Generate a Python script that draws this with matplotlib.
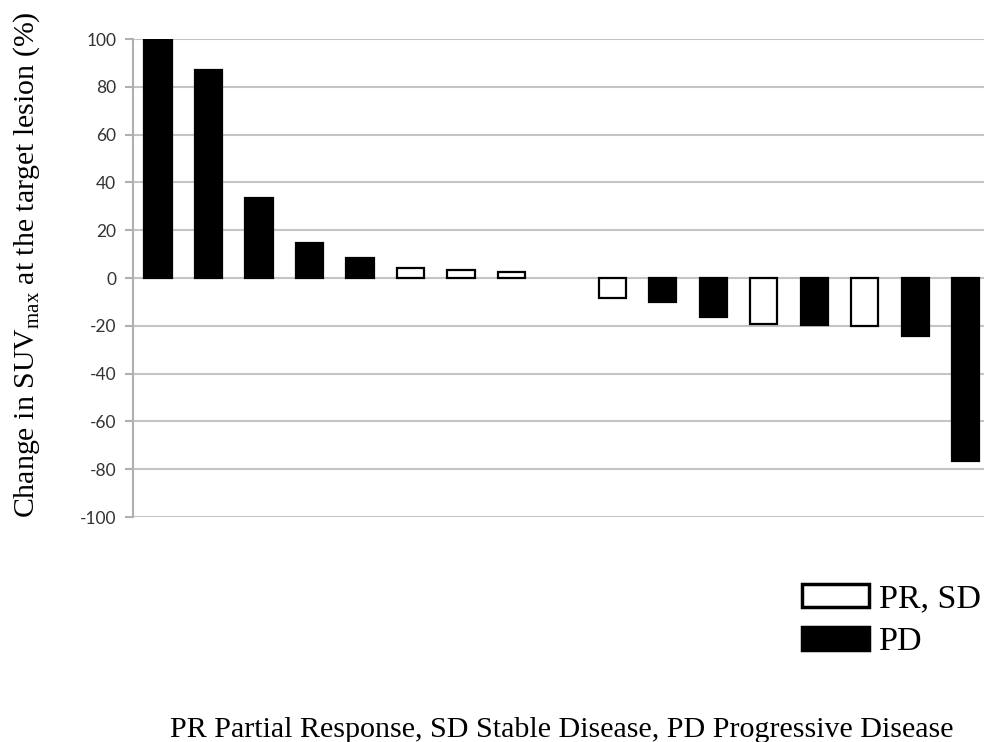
import matplotlib
matplotlib.use("Agg")
import matplotlib.pyplot as plt
from matplotlib.patches import Patch
import numpy as np

# waterfall values (% change in SUVmax), one per patient, sorted
zmiana = [100, 87, 33.5, 14.5, 8.3, 4.3, 3.3, 2.6, 0,
          -8.2, -10.2, -16.2, -19.2, -19.5, -20.1, -24.1, -76.6]
# response group: "PD" = black, "PR, SD" = white
grupa = ["PD", "PD", "PD", "PD", "PD", "PR, SD", "PR, SD", "PR, SD", "",
         "PR, SD", "PD", "PD", "PR, SD", "PD", "PR, SD", "PD", "PD"]
y_ticks = [-100, -80, -60, -40, -20, 0, 20, 40, 60, 80, 100]
legend_labels = ["PR, SD", "PD"]
footnote = "PR Partial Response, SD Stable Disease, PD Progressive Disease"

plt.rcParams["mathtext.fontset"] = "custom"
plt.rcParams["mathtext.rm"] = "Liberation Serif"
plt.rcParams["axes.unicode_minus"] = False
serif = "Liberation Serif"

fig = plt.figure(figsize=(9.84, 7.42), dpi=100)
ax = fig.add_axes([0.135, 0.3032, 0.872, 0.6442])

pozycje = np.arange(len(zmiana))
for x, v, g in zip(pozycje, zmiana, grupa):
    if g == "":
        continue
    kolor = "black" if g == "PD" else "white"
    ax.bar(x, v, width=0.54, color=kolor, edgecolor="black", linewidth=1.6, zorder=3)

ax.set_xlim(-0.5, len(zmiana) - 0.5)
ax.set_ylim(-100, 100)
ax.set_yticks(y_ticks)
ax.set_xticks([])
ax.yaxis.grid(True, color="#c4c4c4", linewidth=1.5, zorder=0)
for s in ["top", "right", "bottom"]:
    ax.spines[s].set_visible(False)
ax.spines["left"].set_color("#b0b0b0")
ax.spines["left"].set_linewidth(1.5)
ax.tick_params(axis="y", length=6, width=1.5, color="#b0b0b0", pad=6,
               labelsize=12.5, labelcolor="#333333")
for t in ax.get_yticklabels():
    t.set_family("Lato")

fig.text(27 / 984, 1 - 265 / 742,
         r"Change in SUV$_{\mathrm{max}}$ at the target lesion (%)",
         rotation=90, ha="center", va="center", fontsize=21.5, family=serif)

uchwyty = [Patch(facecolor="white", edgecolor="black", linewidth=2.5),
           Patch(facecolor="black", edgecolor="black", linewidth=2.5)]
fig.legend(uchwyty, legend_labels, loc="upper left", bbox_to_anchor=(0.815, 1 - 584 / 742),
           frameon=False, prop={"family": serif, "size": 24.5},
           handlelength=1.97, handleheight=0.68, handletextpad=0.3, labelspacing=0.36,
           borderaxespad=0, borderpad=0)

fig.text(561.5 / 984, 5 / 742, footnote, ha="center", va="baseline",
         family=serif, fontsize=21.6)

fig.savefig("out.png", dpi=100)
